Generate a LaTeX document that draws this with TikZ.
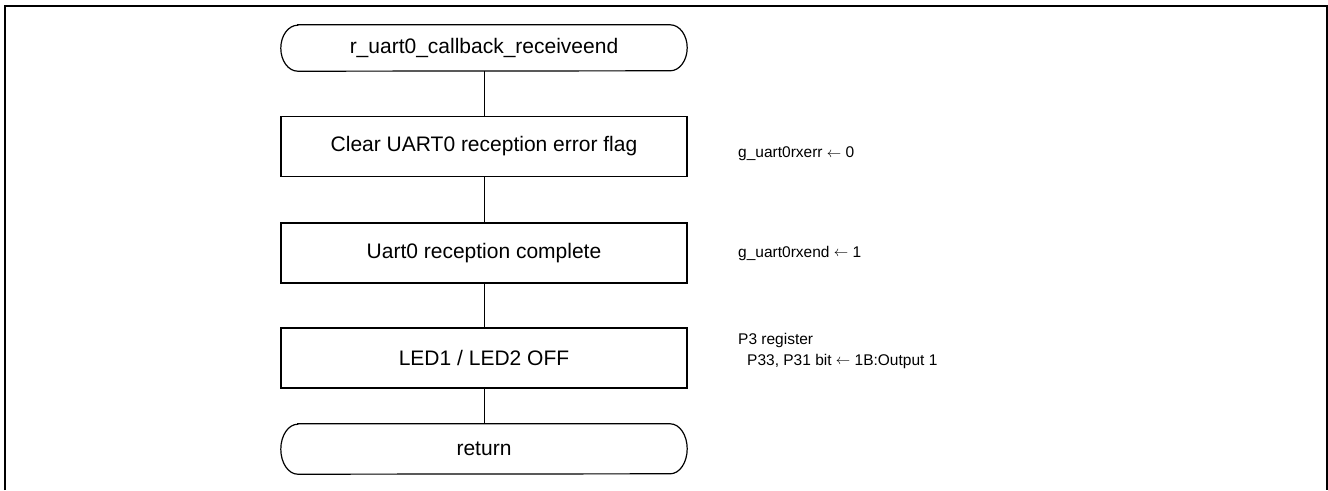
\documentclass[tikz,border=0pt]{standalone}
\usepackage{fontspec}
\setmainfont{Liberation Sans}
\newcommand{\larr}{\raisebox{0.5pt}{$\leftarrow$}}
\begin{document}
\begin{tikzpicture}[x=1pt,y=-1pt,
  procbox/.style={draw,line width=1.2pt,minimum width=406pt,minimum height=60pt,inner sep=0pt,font=\fontsize{21}{25}\selectfont},
  termbox/.style={minimum width=406pt,inner sep=0pt,font=\fontsize{21}{25}\selectfont},
  note/.style={anchor=west,inner sep=0pt,font=\fontsize{15.5}{21}\selectfont,align=left},
  flow/.style={line width=1pt}]
\useasboundingbox (0,0) rectangle (1328,490);
\draw[line width=2pt] (5,490) -- (5,6) -- (1327,6) -- (1327,490);
\node[termbox,minimum height=46pt] (start) at (484,48) {r\_uart0\_callback\_receiveend};
\node[procbox] (b1) at (484,146.5) {Clear UART0 reception error flag};
\node[procbox] (b2) at (484,253) {Uart0 reception complete};
\node[procbox] (b3) at (484,358) {LED1 / LED2 OFF};
\node[termbox,minimum height=50pt] (ret) at (484,449) {return};
\foreach \t/\ry in {start/23,ret/25}{
  \draw[line width=1.2pt] ([xshift=17pt]\t.north west) -- ([xshift=-17pt]\t.north east)
    arc[start angle=90,end angle=-90,x radius=17pt,y radius=\ry pt]
    -- ([xshift=17pt]\t.south west)
    arc[start angle=270,end angle=90,x radius=17pt,y radius=\ry pt] -- cycle;
}
\draw[flow] (start.south) -- (b1.north);
\draw[flow] (b1.south) -- (b2.north);
\draw[flow] (b2.south) -- (b3.north);
\draw[flow] (b3.south) -- (ret.north);
\node[note] (n1) at (738,154) {g\_uart0rxerr \larr{} 0};
\node[note] (n2) at (738,253) {g\_uart0rxend \larr{} 1};
\node[note] (n3) at (738,350.5) {P3 register\\\hspace{9pt}P33, P31 bit \larr{} 1B:Output 1};
\end{tikzpicture}
\end{document}
